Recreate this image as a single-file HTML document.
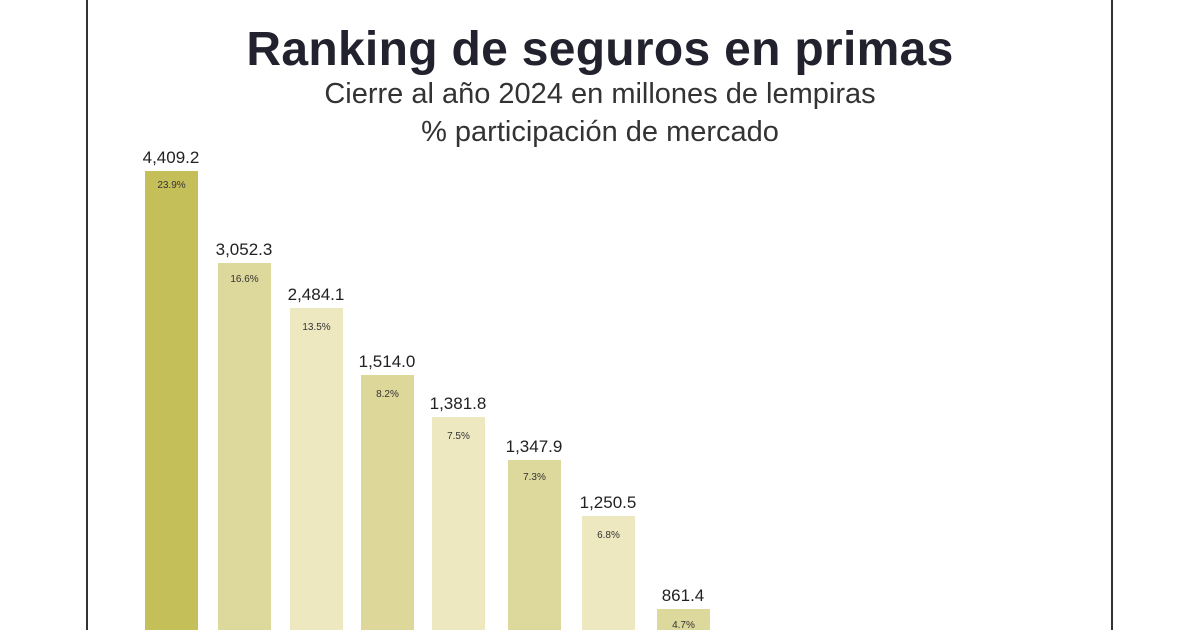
<!DOCTYPE html>
<html><head><meta charset="utf-8"><style>
body{margin:0;width:1200px;height:630px;background:#fff;position:relative;overflow:hidden;font-family:"Liberation Sans",Arial,sans-serif;color:#22222e}
.b{position:absolute;width:53px;bottom:0}
.v{position:absolute;width:100px;text-align:center;font-size:17px;color:#222}
.p{position:absolute;width:53px;text-align:center;font-size:10px;color:#333}
.t{position:absolute;left:0;width:1200px;text-align:center}
</style></head><body>
<div style="position:absolute;left:86px;top:0;width:2px;height:630px;background:#333"></div>
<div style="position:absolute;left:1111px;top:0;width:2px;height:630px;background:#333"></div>
<div class="t" style="top:22px;font-size:48px;font-weight:bold;letter-spacing:0.3px">Ranking de seguros en primas</div>
<div class="t" style="top:78px;font-size:29px;color:#333">Cierre al año 2024 en millones de lempiras</div>
<div class="t" style="top:116px;font-size:29px;color:#333">% participación de mercado</div>

<div class="b" style="left:145px;top:171px;background:#c5bf5a"></div>
<div class="v" style="left:121px;top:148px">4,409.2</div><div class="p" style="left:145px;top:180px">23.9%</div>

<div class="b" style="left:218px;top:263px;background:#ddd89c"></div>
<div class="v" style="left:194px;top:240px">3,052.3</div><div class="p" style="left:218px;top:274px">16.6%</div>

<div class="b" style="left:290px;top:308px;background:#eee8c0"></div>
<div class="v" style="left:266px;top:285px">2,484.1</div><div class="p" style="left:290px;top:322px">13.5%</div>

<div class="b" style="left:361px;top:375px;background:#ddd79a"></div>
<div class="v" style="left:337px;top:352px">1,514.0</div><div class="p" style="left:361px;top:389px">8.2%</div>

<div class="b" style="left:432px;top:417px;background:#eee8c0"></div>
<div class="v" style="left:408px;top:394px">1,381.8</div><div class="p" style="left:432px;top:431px">7.5%</div>

<div class="b" style="left:508px;top:460px;background:#ddd89c"></div>
<div class="v" style="left:484px;top:437px">1,347.9</div><div class="p" style="left:508px;top:472px">7.3%</div>

<div class="b" style="left:582px;top:516px;background:#eee8c0"></div>
<div class="v" style="left:558px;top:493px">1,250.5</div><div class="p" style="left:582px;top:530px">6.8%</div>

<div class="b" style="left:657px;top:609px;background:#ddd89c"></div>
<div class="v" style="left:633px;top:586px">861.4</div><div class="p" style="left:657px;top:620px">4.7%</div>
</body></html>
